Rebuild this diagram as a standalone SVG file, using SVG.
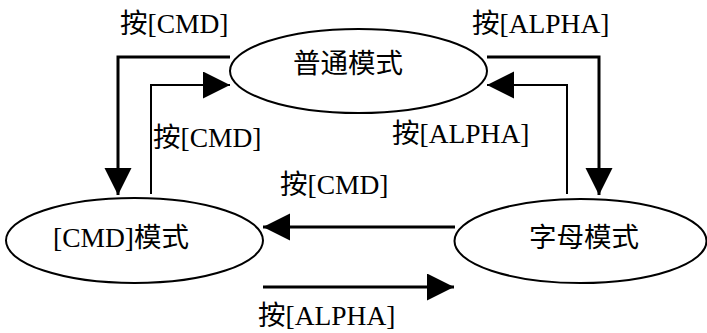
<svg xmlns="http://www.w3.org/2000/svg" width="707" height="333" viewBox="0 0 707 333">
<style>
.node ellipse{fill:#fff;stroke:#000;stroke-width:2}
text{font-family:"Liberation Serif","Noto Sans CJK SC",serif;font-size:27.5px;fill:#000}
.c{fill:none;stroke:#000}
.thin{stroke-width:2}
.thick{stroke-width:3}
</style>
<defs>
<marker id="ah" markerUnits="userSpaceOnUse" markerWidth="28" markerHeight="28" refX="27" refY="13.5" orient="auto">
<path d="M0,0 L27,13.5 L0,27 Z" fill="#000"/>
</marker>
</defs>
<rect width="707" height="333" fill="#fff"/>
<g id="connectors">
<path class="c thick" d="M230,57 H118 V195" marker-end="url(#ah)"/>
<path class="c thin" d="M151,194 V85 H230" marker-end="url(#ah)"/>
<path class="c thick" d="M487,57 H599 V195" marker-end="url(#ah)"/>
<path class="c thin" d="M567,194 V85 H487" marker-end="url(#ah)"/>
<path class="c thick" d="M455,227 H263" marker-end="url(#ah)"/>
<path class="c thick" d="M263,287 H454" marker-end="url(#ah)"/>
<text x="120" y="33">按[CMD]</text>
<text x="153" y="147">按[CMD]</text>
<text x="472" y="33">按[ALPHA]</text>
<text x="392" y="143">按[ALPHA]</text>
<text x="280" y="194">按[CMD]</text>
<text x="258" y="325">按[ALPHA]</text>
</g>
<g id="normal" class="node">
<ellipse cx="358.5" cy="71" rx="128.5" ry="42"/>
<text x="293" y="73">普通模式</text>
</g>
<g id="cmd" class="node">
<ellipse cx="134.5" cy="240.5" rx="128.5" ry="42.5"/>
<text x="53" y="247">[CMD]模式</text>
</g>
<g id="alpha" class="node">
<ellipse cx="580.5" cy="241" rx="126" ry="42"/>
<text x="529" y="247">字母模式</text>
</g>
</svg>
